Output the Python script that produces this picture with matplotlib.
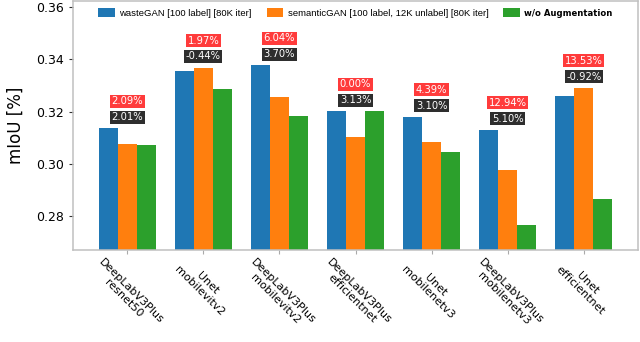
import matplotlib.pyplot as plt
import numpy as np

models = ["DeepLabV3Plus\nresnet50", "Unet\nmobilevitv2", "DeepLabV3Plus\nmobilevitv2",
          "DeepLabV3Plus\nefficientnet", "Unet\nmobilenetv3", "DeepLabV3Plus\nmobilenetv3",
          "Unet\nefficientnet"]
waste_gan = [0.3137, 0.3354, 0.3376, 0.3201, 0.3180, 0.3130, 0.3259]
semantic_gan = [0.3077, 0.3368, 0.3254, 0.3104, 0.3083, 0.2977, 0.3290]
no_aug = [0.3072, 0.3288, 0.3182, 0.3201, 0.3045, 0.2769, 0.2868]
gain_vs_noaug = ["2.09%", "1.97%", "6.04%", "0.00%", "4.39%", "12.94%", "13.53%"]
gain_vs_semantic = ["2.01%", "-0.44%", "3.70%", "3.13%", "3.10%", "5.10%", "-0.92%"]

fig = plt.figure(figsize=(6.4, 3.42), dpi=100)
ax = fig.add_axes([0.114, 0.269, 0.883, 0.728])

x = np.arange(len(models))
w = 0.25
ax.bar(x - w, waste_gan, w, color='#1f77b4', label='wasteGAN [100 label] [80K iter]')
ax.bar(x, semantic_gan, w, color='#ff7f0e', label='semanticGAN [100 label, 12K unlabel] [80K iter]')
ax.bar(x + w, no_aug, w, color='#2ca02c', label='w/o Augmentation')

for i in range(len(models)):
    top = max(waste_gan[i], semantic_gan[i], no_aug[i])
    ax.annotate(gain_vs_semantic[i], (x[i], top), xytext=(0, 8), textcoords='offset points',
                ha='center', va='center', fontsize=7.2, color='white',
                bbox=dict(boxstyle='square,pad=0.15', fc='#2e2e2e', ec='none'))
    ax.annotate(gain_vs_noaug[i], (x[i], top), xytext=(0, 19.5), textcoords='offset points',
                ha='center', va='center', fontsize=7.2, color='white',
                bbox=dict(boxstyle='square,pad=0.15', fc='#ff3b3b', ec='none'))

ax.set_ylim(0.2672, 0.3622)
ax.set_yticks([0.28, 0.30, 0.32, 0.34, 0.36])
ax.set_yticklabels(['0.28', '0.30', '0.32', '0.34', '0.36'], fontsize=9)
ax.set_xticks(x)
ax.set_xticklabels(models, rotation=-45, fontsize=8, ha='center', multialignment='center',
                   linespacing=1.1)
ax.set_ylabel('mIoU [%]', fontsize=12)
ax.yaxis.set_label_coords(-0.085, 0.5)
ax.tick_params(axis='y', length=3, width=0.8, color='#333333')
ax.tick_params(axis='x', length=3, width=0.8, color='#aaaaaa', pad=2)
for s in ax.spines.values():
    s.set_color('#c0c0c0')
    s.set_linewidth(1.1)

leg = ax.legend(loc='upper center', ncol=3, frameon=False, fontsize=6.8,
                handlelength=1.75, handleheight=1.2, handletextpad=0.45,
                columnspacing=1.6, borderaxespad=0.3)
for t in leg.get_texts()[:2]:
    t.set_family('Liberation Sans')
leg.get_texts()[2].set_fontweight('bold')
leg.get_texts()[2].set_fontsize(6.1)

fig.savefig('out.png', dpi=100)
